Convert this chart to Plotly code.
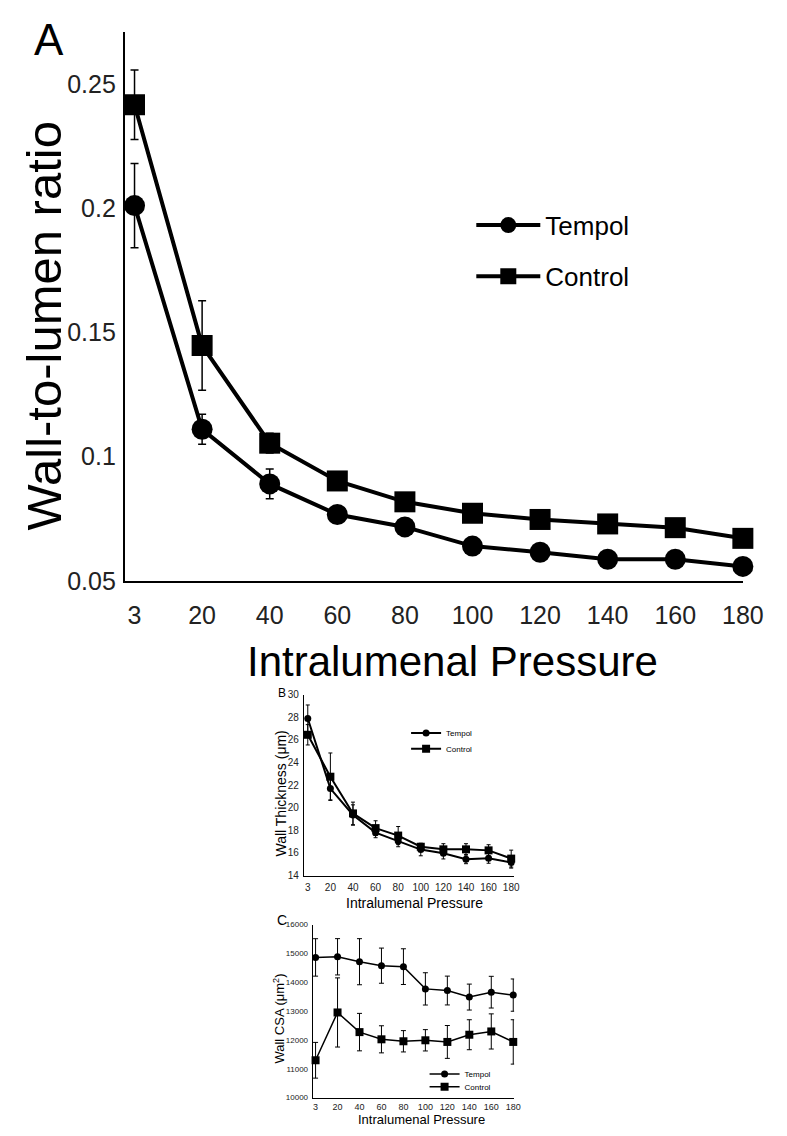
import plotly.graph_objects as go

# ---------------- data ----------------
pressures = ["3", "20", "40", "60", "80", "100", "120", "140", "160", "180"]
idx = list(range(len(pressures)))

# Panel A: wall-to-lumen ratio
a_tempol = [0.201, 0.111, 0.089, 0.0767, 0.0717, 0.064, 0.0615, 0.0587, 0.0587, 0.0558]
a_tempol_err = [0.017, 0.006, 0.006, 0.003, 0.002, 0.002, 0.002, 0.002, 0.002, 0.002]
a_control = [0.2416, 0.1447, 0.1054, 0.0902, 0.0818, 0.0772, 0.0747, 0.0729, 0.0714, 0.0671]
a_control_err = [0.014, 0.018, 0.004, 0.003, 0.002, 0.002, 0.002, 0.002, 0.002, 0.002]

# Panel B: wall thickness (um)
b_tempol = [27.9, 21.7, 19.36, 17.8, 17.05, 16.3, 15.97, 15.45, 15.54, 15.16]
b_tempol_err = [1.2, 1.0, 0.9, 0.45, 0.5, 0.55, 0.5, 0.4, 0.45, 0.5]
b_control = [26.46, 22.75, 19.5, 18.2, 17.54, 16.55, 16.32, 16.32, 16.23, 15.5]
b_control_err = [0.9, 2.1, 1.0, 0.65, 0.8, 0.3, 0.5, 0.5, 0.5, 0.75]

# Panel C: wall CSA (um^2)
c_tempol = [14864, 14886, 14715, 14578, 14544, 13772, 13715, 13488, 13658, 13556]
c_tempol_err = [650, 630, 800, 610, 620, 560, 500, 450, 550, 560]
c_control = [11295, 12954, 12272, 12022, 11954, 11988, 11931, 12181, 12295, 11931]
c_control_err = [620, 1200, 650, 470, 370, 370, 570, 520, 610, 770]

W, H = 787, 1136
FONT = "Liberation Sans, Arial, Helvetica, sans-serif"


def px(x):
    return x / W


def py(y):
    return 1 - y / H


fig = go.Figure()


def add_pair(xa, ya, t, te, c, ce, msz_c, msz_s, lw, ew, ewid, lg1, lg2):
    fig.add_trace(go.Scatter(
        x=idx, y=t, name="Tempol", mode="lines+markers", xaxis=xa, yaxis=ya,
        line=dict(color="black", width=lw),
        marker=dict(symbol="circle", size=msz_c, color="black"),
        error_y=dict(type="data", array=te, color="black", thickness=ew, width=ewid),
        cliponaxis=False, legend=lg1, showlegend=True))
    fig.add_trace(go.Scatter(
        x=idx, y=c, name="Control", mode="lines+markers", xaxis=xa, yaxis=ya,
        line=dict(color="black", width=lw),
        marker=dict(symbol="square", size=msz_s, color="black"),
        error_y=dict(type="data", array=ce, color="black", thickness=ew, width=ewid),
        cliponaxis=False, legend=lg2, showlegend=True))


add_pair("x", "y", a_tempol, a_tempol_err, a_control, a_control_err, 21, 21, 4, 1.5, 4, "legend", "legend2")
add_pair("x2", "y2", b_tempol, b_tempol_err, b_control, b_control_err, 7, 8, 2, 1, 2, "legend3", "legend4")
add_pair("x3", "y3", c_tempol, c_tempol_err, c_control, c_control_err, 7, 8, 1.5, 1, 2.5, "legend5", "legend6")


def xaxis_cfg(dom, rng, fs, lw, standoff):
    return dict(domain=dom, range=rng, tickmode="array", tickvals=idx, ticktext=pressures,
                showgrid=False, zeroline=False, showline=True, linecolor="black", linewidth=lw,
                ticks="", tickfont=dict(family=FONT, size=fs, color="#222"),
                ticklabelstandoff=standoff, fixedrange=True)


def yaxis_cfg(dom, rng, vals, texts, fs, lw, standoff):
    return dict(domain=dom, range=rng, tickmode="array", tickvals=vals, ticktext=texts,
                showgrid=False, zeroline=False, showline=True, linecolor="black", linewidth=lw,
                ticks="", tickfont=dict(family=FONT, size=fs, color="#222"),
                ticklabelstandoff=standoff, fixedrange=True)


a_yticks = [0.05, 0.1, 0.15, 0.2, 0.25]
b_yticks = [14, 16, 18, 20, 22, 24, 26, 28, 30]
c_yticks = [10000, 11000, 12000, 13000, 14000, 15000, 16000]

fig.update_layout(
    width=W, height=H, margin=dict(l=0, r=0, t=0, b=0),
    paper_bgcolor="white", plot_bgcolor="white",
    font=dict(family=FONT, color="black"), showlegend=True,
    xaxis=xaxis_cfg([px(120), px(755)], [-0.144, 9], 25, 2, 11),
    yaxis=yaxis_cfg([py(577), py(18)], [0.05, 0.271], a_yticks, [str(v) for v in a_yticks], 25, 2, 2),
    xaxis2=dict(xaxis_cfg([px(304), px(520)], [-0.172, 9.13], 10, 1, 2), anchor="y2"),
    yaxis2=dict(yaxis_cfg([py(877), py(693)], [14, 30], b_yticks, [str(v) for v in b_yticks], 10, 1, 2), anchor="x2"),
    xaxis3=dict(xaxis_cfg([px(313), px(520)], [-0.133, 9.04], 9, 1, 1), anchor="y3"),
    yaxis3=dict(yaxis_cfg([py(1103), py(927)], [10000, 16000], c_yticks, [str(v) for v in c_yticks], 8, 1, 2), anchor="x3"),
)


def leg(x, y, fs, iw):
    return dict(x=px(x), y=py(y), xanchor="left", yanchor="middle", bgcolor="rgba(0,0,0,0)",
                borderwidth=0, font=dict(family=FONT, size=fs, color="black"),
                itemwidth=iw, tracegroupgap=0, visible=True)


fig.update_layout(
    legend=leg(476, 215, 26, 64),
    legend2=leg(476, 267, 26, 64),
    legend3=leg(409, 732, 8, 30),
    legend4=leg(409, 748, 8, 30),
    legend5=leg(428, 1079, 8, 30),
    legend6=leg(428, 1092, 8, 30),
)

ann = []


def text(x, y, s, size, angle=0):
    ann.append(dict(x=px(x), y=py(y), xref="paper", yref="paper", text=s, showarrow=False,
                    xanchor="center", yanchor="middle", textangle=angle,
                    font=dict(family=FONT, size=size, color="black")))


text(42, 26, "A", 44)
text(457, 659, "Intralumenal Pressure", 42)
text(37, 318, "Wall-to-lumen ratio", 49, -90)

text(281, 691, "B", 12)
text(418, 905, "Intralumenal Pressure", 14)
text(281, 794, "Wall Thickness (μm)", 14, -90)

text(281, 922, "C", 14)
text(425, 1125, "Intralumenal Pressure", 13)
text(278, 1023, "Wall CSA (μm<sup>2</sup>)", 13, -90)

fig.update_layout(annotations=ann)

fig.write_html("out.html")
